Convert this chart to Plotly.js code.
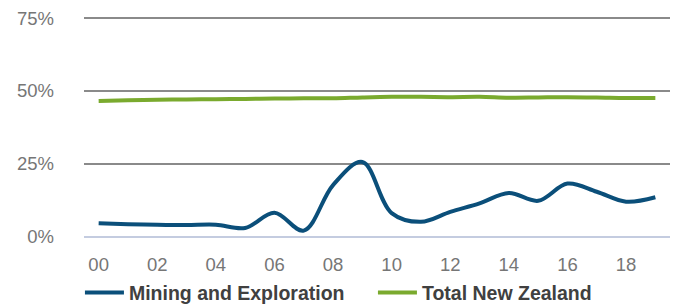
<!DOCTYPE html>
<html>
<head>
<meta charset="utf-8">
<script src="https://cdn.plot.ly/plotly-3.0.1.min.js"></script>
<style>html,body{margin:0;padding:0;background:#fff}#chart{width:678px;height:305px}</style>
</head>
<body>
<div id="chart"></div>
<script>
var years = ['00','01','02','03','04','05','06','07','08','09','10','11','12','13','14','15','16','17','18','19'];
var tickYears = ['00','02','04','06','08','10','12','14','16','18'];
var mining = [4.7, 4.4, 4.2, 4.1, 4.2, 3.1, 8.3, 2.2, 17.8, 25.7, 8.2, 5.2, 8.6, 11.5, 15.1, 12.4, 18.3, 15.5, 12.1, 13.6];
var totalNZ = [46.6, 46.8, 47.0, 47.1, 47.2, 47.3, 47.4, 47.5, 47.5, 47.8, 48.0, 48.0, 47.9, 48.0, 47.7, 47.8, 47.9, 47.8, 47.6, 47.6];
var seriesNames = ['Mining and Exploration', 'Total New Zealand'];
var yTicks = [0, 25, 50, 75];
var yTickText = ['0%', '25%', '50%', '75%'];

var traces = [
  {x: years, y: mining, name: seriesNames[0], type: 'scatter', mode: 'lines',
   line: {color: '#0b4f7a', width: 4, shape: 'spline', smoothing: 1}},
  {x: years, y: totalNZ, name: seriesNames[1], type: 'scatter', mode: 'lines',
   line: {color: '#7aaa2e', width: 4, shape: 'spline', smoothing: 1}}
];

var layout = {
  width: 678, height: 305,
  margin: {l: 84, r: 8, t: 16.7, b: 68, autoexpand: false},
  paper_bgcolor: '#fff', plot_bgcolor: '#fff',
  font: {family: 'Liberation Sans, Arial, sans-serif', size: 18.5, color: '#767676'},
  xaxis: {type: 'category', range: [-0.5, 19.5], tickvals: tickYears, ticktext: tickYears,
          showgrid: false, zeroline: false, showline: false, ticks: '',
          ticklabelstandoff: 14, tickfont: {size: 18.5, color: '#767676'}},
  yaxis: {range: [0, 75.35], tickvals: yTicks, ticktext: yTickText,
          showgrid: true, gridcolor: '#8a8a8a', gridwidth: 1.5,
          zeroline: true, zerolinecolor: '#c4cce0', zerolinewidth: 2.5,
          showline: false, ticks: '', ticklabelstandoff: 29,
          tickfont: {size: 18.5, color: '#767676'}},
  showlegend: true,
  legend: {orientation: 'h', xref: 'paper', yref: 'paper',
           x: -0.0001, xanchor: 'left', y: -56/220.3, yanchor: 'middle',
           font: {size: 19.5, color: '#404040', weight: 'bold'},
           entrywidth: 243, entrywidthmode: 'pixels', itemwidth: 39, indentation: -4,
           bgcolor: 'rgba(0,0,0,0)', borderwidth: 0}
};

Plotly.newPlot('chart', traces, layout, {displayModeBar: false, staticPlot: true});
</script>
</body>
</html>
